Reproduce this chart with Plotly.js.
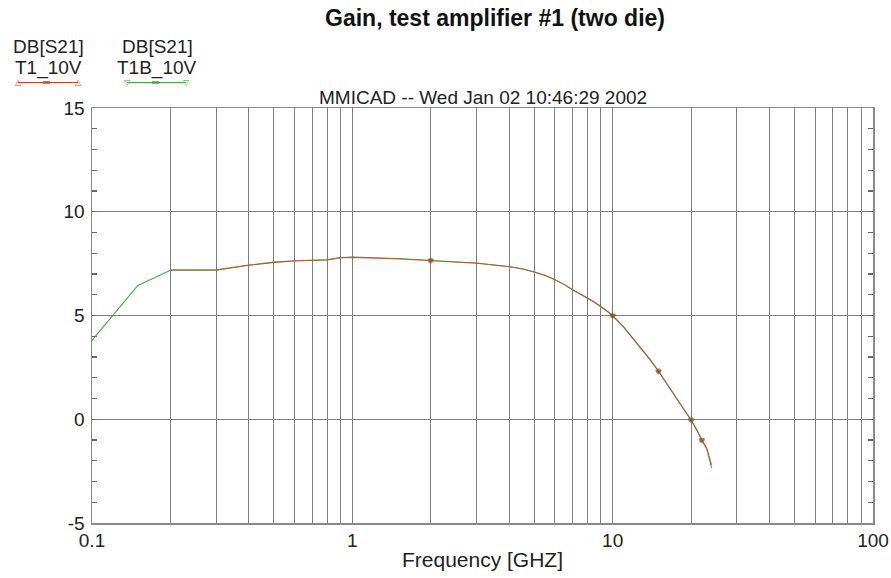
<!DOCTYPE html>
<html>
<head>
<meta charset="utf-8">
<script src="https://cdn.plot.ly/plotly-3.0.1.min.js"></script>
<style>
  html, body { margin: 0; padding: 0; background: #fff; }
  #chart { width: 891px; height: 578px; }
</style>
</head>
<body>
<div id="chart"></div>
<script>
// Frequency sweep points [GHz]
const freqT1B = [0.1, 0.15, 0.2, 0.3, 0.4, 0.5, 0.6, 0.7, 0.8, 0.9, 1, 1.5, 2, 3, 4, 4.5, 5, 5.5, 6, 6.5, 7, 7.5, 8, 8.5, 9, 9.5, 10, 11, 12, 13, 14, 15, 16, 17, 18, 19, 20, 21, 22, 23, 24];
const gainT1B = [3.8, 6.45, 7.18, 7.18, 7.42, 7.56, 7.63, 7.66, 7.68, 7.78, 7.82, 7.75, 7.66, 7.52, 7.35, 7.24, 7.1, 6.93, 6.72, 6.5, 6.25, 6.05, 5.84, 5.64, 5.44, 5.22, 4.98, 4.45, 3.86, 3.35, 2.83, 2.3, 1.78, 1.3, 0.85, 0.4, -0.05, -0.5, -1.0, -1.45, -2.35];

const freqT1 = [0.2, 0.3, 0.4, 0.5, 0.6, 0.7, 0.8, 0.9, 1, 1.5, 2, 3, 4, 4.5, 5, 5.5, 6, 6.5, 7, 7.5, 8, 8.5, 9, 9.5, 10, 11, 12, 13, 14, 15, 16, 17, 18, 19, 20, 21, 22, 23, 24];
const gainT1 = [7.2, 7.2, 7.43, 7.57, 7.64, 7.67, 7.69, 7.79, 7.8, 7.72, 7.64, 7.53, 7.36, 7.25, 7.1, 6.94, 6.73, 6.5, 6.24, 6.04, 5.85, 5.65, 5.45, 5.23, 5.0, 4.46, 3.88, 3.37, 2.85, 2.32, 1.8, 1.32, 0.87, 0.42, -0.02, -0.48, -1.02, -1.4, -2.2];

// Frequencies carrying a marker symbol
const markedFreqs = [2, 10, 15, 20, 22];

// Axis ticks
const decades = [0.1, 1, 10, 100];
const yRange = [-5, 15];
const yMajorStep = 5;
const yMinorStep = 1;

// Gridline positions: every digit within each decade
const xGrid = [];
decades.slice(0, -1).forEach(d => { for (let k = 1; k <= 9; k++) xGrid.push(+(d * k).toPrecision(3)); });
xGrid.push(decades[decades.length - 1]);
const xGridText = xGrid.map(v => decades.includes(v) ? String(v) : '');

const markerSizes = f => f.map(v => markedFreqs.includes(v) ? 5 : 0);

const green = '#3fa83f';
const red = '#cc4030';

const traces = [
  {
    x: freqT1B, y: gainT1B, type: 'scatter', mode: 'lines+markers', name: 'T1B_10V',
    line: { color: green, width: 1.1 },
    marker: { color: '#2f7a2f', size: markerSizes(freqT1B), symbol: 'triangle-down' },
    hoverinfo: 'x+y'
  },
  {
    x: freqT1, y: gainT1, type: 'scatter', mode: 'lines+markers', name: 'T1_10V',
    line: { color: red, width: 1.1 },
    marker: { color: '#7a4a20', size: markerSizes(freqT1), symbol: 'circle' },
    opacity: 0.75,
    hoverinfo: 'x+y'
  }
];

const font = 'Liberation Sans, Arial, sans-serif';

// Pixel helpers for placing the legend block above the plot area
const L = 92, R = 873, T = 108, B = 523;
const px = x => (x - L) / (R - L);
const py = y => (B - y) / (B - T);

const legendItems = [
  { cx: 48, label: 'T1_10V', color: red, x0: 18, x1: 78, sym: '△' },
  { cx: 157, label: 'T1B_10V', color: green, x0: 127, x1: 186, sym: '▽' }
];

const annotations = [
  {
    text: 'MMICAD -- Wed Jan 02 10:46:29 2002', xref: 'paper', yref: 'paper',
    x: 0.5, y: py(97), xanchor: 'center', yanchor: 'middle', showarrow: false,
    font: { family: font, size: 19, color: '#222' }
  }
];
const shapes = [];
legendItems.forEach(it => {
  annotations.push({
    text: 'DB[S21]', xref: 'paper', yref: 'paper', x: px(it.cx), y: py(46),
    xanchor: 'center', yanchor: 'middle', showarrow: false,
    font: { family: font, size: 19, color: '#222' }
  });
  annotations.push({
    text: it.label, xref: 'paper', yref: 'paper', x: px(it.cx), y: py(68),
    xanchor: 'center', yanchor: 'middle', showarrow: false,
    font: { family: font, size: 19, color: '#222' }
  });
  shapes.push({
    type: 'line', xref: 'paper', yref: 'paper',
    x0: px(it.x0), x1: px(it.x1), y0: py(82.5), y1: py(82.5),
    line: { color: it.color, width: 1 }
  });
  shapes.push({
    type: 'line', xref: 'paper', yref: 'paper',
    x0: px(it.cx - 5), x1: px(it.cx + 2), y0: py(82.5), y1: py(82.5),
    line: { color: it.color, width: 2.5 }
  });
  [it.x0, it.x1].forEach(xe => annotations.push({
    text: it.sym, xref: 'paper', yref: 'paper', x: px(xe), y: py(82),
    xanchor: 'center', yanchor: 'middle', showarrow: false,
    font: { family: 'DejaVu Sans', size: 8, color: it.color }
  }));
});

const layout = {
  width: 891, height: 578,
  margin: { l: L, r: 891 - R, t: T, b: 578 - B, pad: 0 },
  paper_bgcolor: '#fff', plot_bgcolor: '#fff',
  showlegend: false,
  title: {
    text: '<b>Gain, test amplifier #1 (two die)</b>',
    xref: 'container', yref: 'container', x: 495 / 891, y: 1 - 18 / 578,
    xanchor: 'center', yanchor: 'middle',
    font: { family: font, size: 23, color: '#111' }
  },
  xaxis: {
    type: 'log', range: [Math.log10(0.1), Math.log10(100)],
    tickmode: 'array', tickvals: xGrid, ticktext: xGridText,
    ticks: '', showgrid: true, gridcolor: '#7d7d7d', gridwidth: 1,
    showline: true, linecolor: '#8a8a8a', linewidth: 1.5, mirror: true,
    zeroline: false,
    tickfont: { family: font, size: 19, color: '#222' },
    title: { text: 'Frequency [GHZ]', font: { family: font, size: 21, color: '#222' }, standoff: 2 }
  },
  yaxis: {
    range: yRange, tickmode: 'linear', tick0: yRange[0], dtick: yMajorStep,
    ticks: 'inside', ticklen: 5, tickcolor: '#666', tickwidth: 1.1,
    showgrid: true, gridcolor: '#7d7d7d', gridwidth: 1,
    showline: true, linecolor: '#8a8a8a', linewidth: 1.5, mirror: 'allticks',
    zeroline: false,
    minor: { dtick: yMinorStep, ticks: 'inside', ticklen: 5, tickcolor: '#666', tickwidth: 1.1, showgrid: false },
    labelalias: { '\u22125': '-5' },
    tickfont: { family: font, size: 19, color: '#222' },
    ticklabelstandoff: 2
  },
  annotations: annotations,
  shapes: shapes
};

Plotly.newPlot('chart', traces, layout, { displayModeBar: false, staticPlot: true });
</script>
</body>
</html>
